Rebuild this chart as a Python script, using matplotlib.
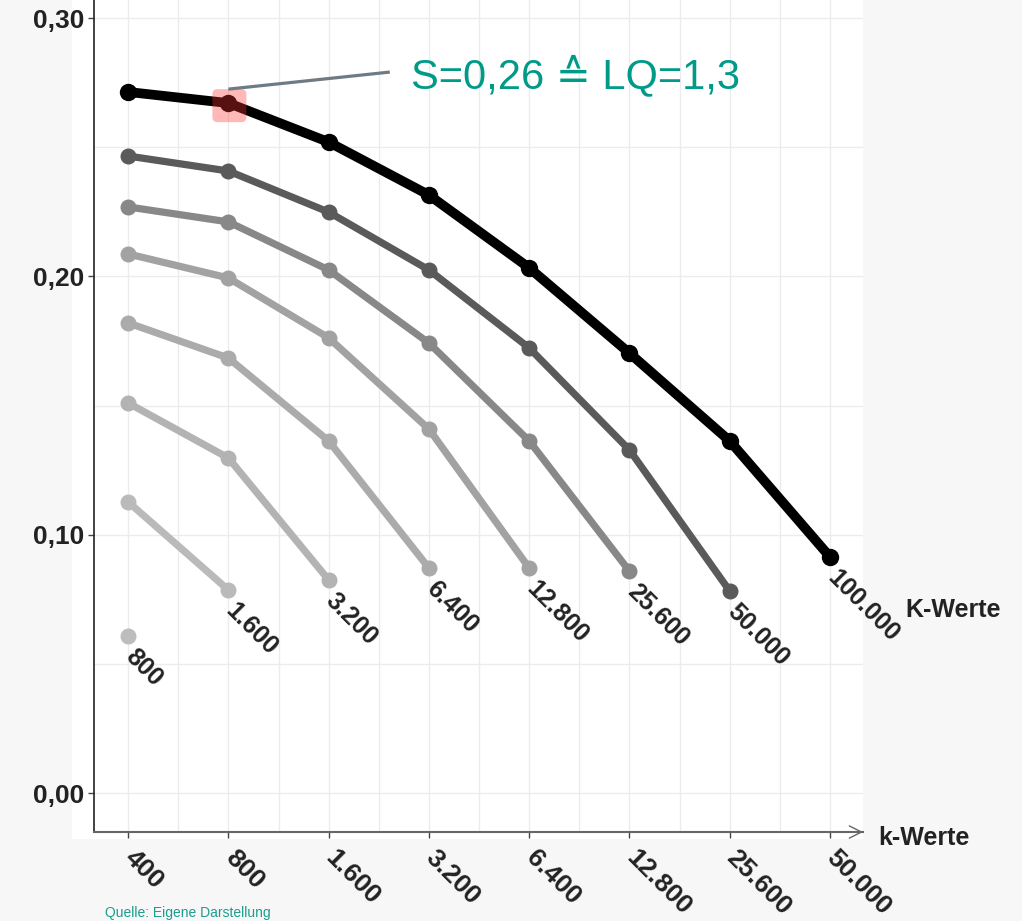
import matplotlib.pyplot as plt
import matplotlib.transforms as mtransforms
from matplotlib.patches import FancyBboxPatch, Rectangle

plt.rcParams['font.family'] = ['Liberation Sans', 'DejaVu Sans']

# k-Werte (x categories)
k_werte = ["400", "800", "1.600", "3.200", "6.400", "12.800", "25.600", "50.000"]

# K-Werte (one line each)
K_werte = ["800", "1.600", "3.200", "6.400", "12.800", "25.600", "50.000", "100.000"]
s_800 = [0.0608]
s_1600 = [0.1127, 0.0786]
s_3200 = [0.1510, 0.1297, 0.0825]
s_6400 = [0.1820, 0.1684, 0.1363, 0.0871]
s_12800 = [0.2087, 0.1994, 0.1762, 0.1409, 0.0871]
s_25600 = [0.2269, 0.2211, 0.2025, 0.1742, 0.1363, 0.0859]
s_50000 = [0.2466, 0.2408, 0.2249, 0.2025, 0.1723, 0.1328, 0.0782]
s_100000 = [0.2714, 0.2671, 0.2520, 0.2315, 0.2033, 0.1703, 0.1363, 0.0914]
reihen = [s_800, s_1600, s_3200, s_6400, s_12800, s_25600, s_50000, s_100000]

farben = ["#bdbdbd", "#bababa", "#b3b3b3", "#ababab", "#a2a2a2", "#888888", "#5a5a5a", "#000000"]

markiert_x = 1
markiert_y = 0.2671
anmerkung = "S=0,26 \u2259 LQ=1,3"
quelle = "Quelle: Eigene Darstellung"


def main():
    fig = plt.figure(figsize=(10.22, 9.21), dpi=100)
    fig.patch.set_facecolor("#f7f7f7")
    # white plot background
    fig.patches.append(Rectangle((0.0705, 0.089), 0.774, 0.911, transform=fig.transFigure,
                                 facecolor="white", edgecolor="none", zorder=-5))

    ax = fig.add_axes([0.092, 0.0966, 0.7525, 0.9034])
    ax.set_facecolor("white")
    ax.set_zorder(2)

    for i, (werte, farbe, lab) in enumerate(zip(reihen, farben, K_werte)):
        xs = list(range(len(werte)))
        schwarz = farbe == "#000000"
        ax.plot(xs, werte, color=farbe, lw=7.0 if schwarz else 5.2,
                marker="o", ms=11.5 if schwarz else 10.5, solid_capstyle="round",
                zorder=3 + i)
        ax.annotate(lab, (xs[-1], werte[-1]), xytext=(7, -6), textcoords="offset points",
                    rotation=-45, ha="left", va="top", rotation_mode="anchor",
                    fontsize=18, fontweight="bold", color="#222222", zorder=20)

    # red marker square
    trans = fig.dpi_scale_trans + mtransforms.ScaledTranslation(markiert_x + 0.01, markiert_y - 0.001, ax.transData)
    ax.add_patch(FancyBboxPatch((-0.17, -0.165), 0.34, 0.33,
                                boxstyle="round,pad=0,rounding_size=0.05",
                                transform=trans, facecolor="#ff3333", alpha=0.35,
                                edgecolor="none", zorder=30))
    ax.plot([1.0, 2.61], [0.2725, 0.2791], color="#6e7b85", lw=2.3, zorder=30,
            solid_capstyle="butt")
    ax.text(2.82, 0.2773, anmerkung, fontsize=30, color="#009a88", va="center", ha="left",
            zorder=31)

    ax.set_xticks(range(len(k_werte)))
    ax.set_xticklabels(k_werte, rotation=-45, ha="left", va="top", rotation_mode="anchor",
                       fontsize=19, fontweight="bold", color="#222222")
    ax.set_xticks([i + 0.5 for i in range(-1, 8)], minor=True)
    ax.set_yticks([0.0, 0.1, 0.2, 0.3])
    ax.set_yticklabels(["0,00", "0,10", "0,20", "0,30"], fontsize=19, fontweight="bold",
                       color="#222222")
    ax.set_yticks([0.05, 0.15, 0.25], minor=True)
    ax.tick_params(axis="both", which="major", length=4, color="#444444", width=1)
    ax.tick_params(axis="x", which="major", pad=6)
    ax.tick_params(axis="y", which="major", pad=3)
    ax.tick_params(which="minor", length=0)
    ax.grid(True, which="both", color="#ececec", lw=1)
    ax.set_axisbelow(True)

    # limits after the ticks, so the minor ticks do not widen them
    ax.set_xlim(-0.34, 7.33)
    ax.set_ylim(-0.0151, 0.307)

    # shift the rotated tick labels to start at the tick
    versatz = mtransforms.ScaledTranslation(9 / 100, 0, fig.dpi_scale_trans)
    for t in ax.get_xticklabels():
        t.set_transform(t.get_transform() + versatz)

    for s in ["top", "right"]:
        ax.spines[s].set_visible(False)
    ax.spines["left"].set_color("#222222")
    ax.spines["left"].set_linewidth(1.2)
    ax.spines["bottom"].set_color("#666666")
    ax.spines["bottom"].set_linewidth(1.5)

    # arrow head at end of x axis
    ax.annotate("", xy=(1.0, 0.0), xycoords="axes fraction", xytext=(0.985, 0.0),
                arrowprops=dict(arrowstyle="->", color="#666666", lw=1.0,
                                mutation_scale=22, shrinkA=0, shrinkB=0),
                annotation_clip=False)

    fig.text(878 / 1022, 1 - 838 / 921, "k-Werte", fontsize=18, fontweight="bold",
             color="#222222", va="center", ha="left")
    fig.text(905 / 1022, 1 - 610 / 921, "K-Werte", fontsize=18, fontweight="bold",
             color="#222222", va="center", ha="left")
    fig.text(105 / 1022, 1 - 913 / 921, quelle, fontsize=10, color="#1a9e8f",
             va="center", ha="left")

    plt.savefig("out.png", dpi=100, facecolor=fig.get_facecolor())


if __name__ == "__main__":
    main()
